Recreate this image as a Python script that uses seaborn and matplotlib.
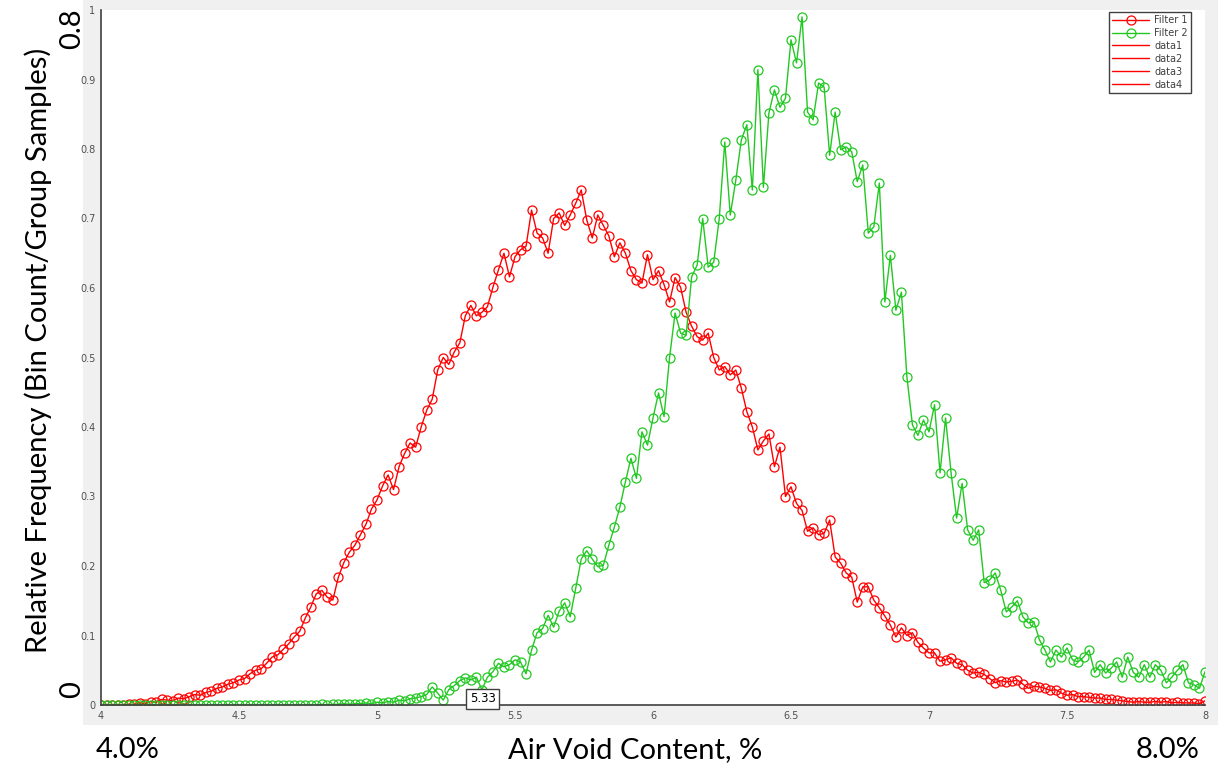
import numpy as np
import pandas as pd
import matplotlib
matplotlib.use("Agg")
import matplotlib.pyplot as plt
from matplotlib.patches import Rectangle
import seaborn as sns

# bin centres (Air Void Content, %)
air_void = np.round(np.arange(4.0, 8.0001, 0.02), 2)

filter1 = [
    0, 0, 0, 0, 0, 0.001, 0.001, 0.003, 0.002, 0.005,
    0.004, 0.008, 0.007, 0.006, 0.010, 0.009, 0.012, 0.015, 0.014, 0.018,
    0.020, 0.024, 0.026, 0.030, 0.032, 0.036, 0.038, 0.045, 0.050, 0.052,
    0.060, 0.069, 0.072, 0.080, 0.088, 0.098, 0.106, 0.125, 0.141, 0.160,
    0.165, 0.155, 0.151, 0.184, 0.205, 0.220, 0.230, 0.245, 0.260, 0.282,
    0.295, 0.315, 0.331, 0.310, 0.343, 0.362, 0.377, 0.371, 0.400, 0.424,
    0.440, 0.482, 0.500, 0.490, 0.508, 0.521, 0.560, 0.575, 0.560, 0.565,
    0.573, 0.601, 0.626, 0.650, 0.616, 0.645, 0.655, 0.660, 0.712, 0.679,
    0.672, 0.650, 0.700, 0.708, 0.690, 0.705, 0.722, 0.741, 0.698, 0.672,
    0.705, 0.690, 0.675, 0.645, 0.665, 0.650, 0.625, 0.612, 0.607, 0.648,
    0.612, 0.625, 0.605, 0.580, 0.615, 0.601, 0.565, 0.545, 0.530, 0.525,
    0.535, 0.500, 0.482, 0.487, 0.475, 0.482, 0.456, 0.422, 0.400, 0.367,
    0.380, 0.390, 0.343, 0.371, 0.300, 0.314, 0.290, 0.280, 0.250, 0.255,
    0.245, 0.247, 0.266, 0.213, 0.204, 0.190, 0.184, 0.148, 0.170, 0.170,
    0.151, 0.140, 0.128, 0.115, 0.098, 0.111, 0.100, 0.104, 0.090, 0.082,
    0.075, 0.075, 0.063, 0.065, 0.068, 0.060, 0.058, 0.050, 0.046, 0.047,
    0.044, 0.038, 0.032, 0.035, 0.033, 0.034, 0.036, 0.030, 0.024, 0.027,
    0.026, 0.024, 0.021, 0.022, 0.017, 0.014, 0.015, 0.012, 0.012, 0.011,
    0.010, 0.010, 0.008, 0.008, 0.007, 0.006, 0.005, 0.004, 0.005, 0.004,
    0.004, 0.005, 0.004, 0.005, 0.003, 0.004, 0.003, 0.003, 0.003, 0.002,
    0.006,
]

filter2 = [
    0, 0, 0, 0, 0, 0, 0, 0, 0, 0,
    0, 0, 0, 0, 0, 0, 0, 0, 0, 0,
    0, 0, 0, 0, 0, 0, 0, 0, 0, 0,
    0, 0, 0, 0, 0, 0, 0, 0, 0, 0,
    0.001, 0, 0.001, 0.001, 0.002, 0.001, 0.002, 0.002, 0.003, 0.002,
    0.004, 0.003, 0.005, 0.004, 0.007, 0.006, 0.009, 0.010, 0.012, 0.015,
    0.026, 0.017, 0.007, 0.022, 0.028, 0.035, 0.039, 0.036, 0.040, 0.022,
    0.040, 0.048, 0.060, 0.055, 0.058, 0.065, 0.062, 0.045, 0.079, 0.104,
    0.110, 0.129, 0.112, 0.135, 0.147, 0.127, 0.168, 0.210, 0.222, 0.210,
    0.199, 0.201, 0.230, 0.256, 0.285, 0.321, 0.355, 0.326, 0.393, 0.374,
    0.413, 0.449, 0.415, 0.500, 0.564, 0.535, 0.532, 0.616, 0.633, 0.700,
    0.630, 0.637, 0.700, 0.810, 0.705, 0.755, 0.813, 0.835, 0.741, 0.914,
    0.745, 0.852, 0.885, 0.860, 0.873, 0.957, 0.924, 0.990, 0.853, 0.842,
    0.895, 0.889, 0.791, 0.853, 0.799, 0.803, 0.796, 0.753, 0.777, 0.679,
    0.688, 0.751, 0.580, 0.647, 0.568, 0.594, 0.472, 0.403, 0.388, 0.410,
    0.393, 0.432, 0.334, 0.413, 0.334, 0.269, 0.319, 0.252, 0.237, 0.252,
    0.176, 0.180, 0.190, 0.165, 0.134, 0.141, 0.150, 0.127, 0.118, 0.120,
    0.094, 0.079, 0.062, 0.079, 0.069, 0.082, 0.065, 0.062, 0.069, 0.079,
    0.047, 0.058, 0.046, 0.053, 0.062, 0.040, 0.069, 0.047, 0.040, 0.058,
    0.040, 0.058, 0.050, 0.032, 0.040, 0.050, 0.058, 0.032, 0.029, 0.024,
    0.048,
]

series_names = ["Filter 1", "Filter 2"]
series_colors = ["#ff0000", "#22c822"]
extra_names = ["data1", "data2", "data3", "data4"]
x_ticks = [4, 4.5, 5, 5.5, 6, 6.5, 7, 7.5, 8]
x_tick_labels = ["4", "4.5", "5", "5.5", "6", "6.5", "7", "7.5", "8"]
y_ticks = [0, 0.1, 0.2, 0.3, 0.4, 0.5, 0.6, 0.7, 0.8, 0.9, 1]
y_tick_labels = ["0", "0.1", "0.2", "0.3", "0.4", "0.5", "0.6", "0.7", "0.8", "0.9", "1"]
cursor_x = 5.33

W, H = 1218, 765

sns.set_style("white")
plt.rcParams["font.family"] = ["DejaVu Sans"]

fig = plt.figure(figsize=(W / 100, H / 100), dpi=100)
fig.patch.set_facecolor("white")
fig.patches.append(
    Rectangle((83 / W, 40 / H), 1 - 83 / W, 1 - 40 / H, transform=fig.transFigure,
              facecolor="#f0f0f0", edgecolor="none", zorder=-10)
)
ax = fig.add_axes([101 / W, 60 / H, 1104 / W, 695 / H])
ax.set_facecolor("white")

df = pd.DataFrame({
    "air_void": np.concatenate([air_void, air_void]),
    "freq": filter1 + filter2,
    "filter": [series_names[0]] * len(air_void) + [series_names[1]] * len(air_void),
})

for name, color in zip(series_names, series_colors):
    sns.lineplot(
        data=df[df["filter"] == name], x="air_void", y="freq", ax=ax,
        color=color, linewidth=1, marker="o", markersize=6.5,
        markerfacecolor="none", markeredgecolor=color, markeredgewidth=0.9,
        label=name, errorbar=None,
    )
for name in extra_names:
    ax.plot([], [], color="#ff0000", linewidth=1, label=name)

ax.set_xlim(4, 8)
ax.set_ylim(0, 1)
ax.set_xticks(x_ticks, x_tick_labels)
ax.set_yticks(y_ticks, y_tick_labels)
ax.set_xlabel("")
ax.set_ylabel("")
ax.tick_params(direction="in", length=5, width=1, color="#404040",
               labelsize=7, labelcolor="#505050", pad=4)
for side in ["top", "right"]:
    ax.spines[side].set_visible(False)
for side in ["left", "bottom"]:
    ax.spines[side].set_color("#404040")
    ax.spines[side].set_linewidth(1.2)

leg = ax.legend(loc="upper right", bbox_to_anchor=(0.987, 0.997), borderaxespad=0,
                fontsize=7, handlelength=3.8, labelspacing=0.3, borderpad=0.3,
                handletextpad=0.5, fancybox=False, framealpha=1)
leg.get_frame().set_edgecolor("#404040")
leg.get_frame().set_linewidth(1)
for t in leg.get_texts():
    t.set_color("#404040")

# data cursor tip
ax.plot([cursor_x, cursor_x], [0.002, 0.012], color="#ff0000", linewidth=1.2, zorder=5)
ax.text(cursor_x + 0.006, 0.009, "5.33", fontsize=8.5, ha="left", va="center", zorder=6,
        color="black",
        bbox=dict(boxstyle="square,pad=0.3", facecolor="white", edgecolor="#404040", linewidth=1))

label_font = ["Lato", "DejaVu Sans"]
fig.text(72 / W, 1 - 29 / H, "0.8", rotation=90, ha="center", va="center",
         fontsize=21, family=label_font, color="black")
fig.text(72 / W, 1 - 690 / H, "0", rotation=90, ha="center", va="center",
         fontsize=21, family=label_font, color="black")
fig.text(38 / W, 1 - 350 / H, "Relative Frequency (Bin Count/Group Samples)", rotation=90,
         ha="center", va="center", fontsize=21, family=label_font, color="black")
fig.text(128 / W, 1 - 750 / H, "4.0%", ha="center", va="center", fontsize=21,
         family=label_font, color="black")
fig.text(635 / W, 1 - 750 / H, "Air Void Content, %", ha="center", va="center",
         fontsize=21, family=label_font, color="black")
fig.text(1168 / W, 1 - 750 / H, "8.0%", ha="center", va="center", fontsize=21,
         family=label_font, color="black")

fig.savefig("out.png", dpi=100)
